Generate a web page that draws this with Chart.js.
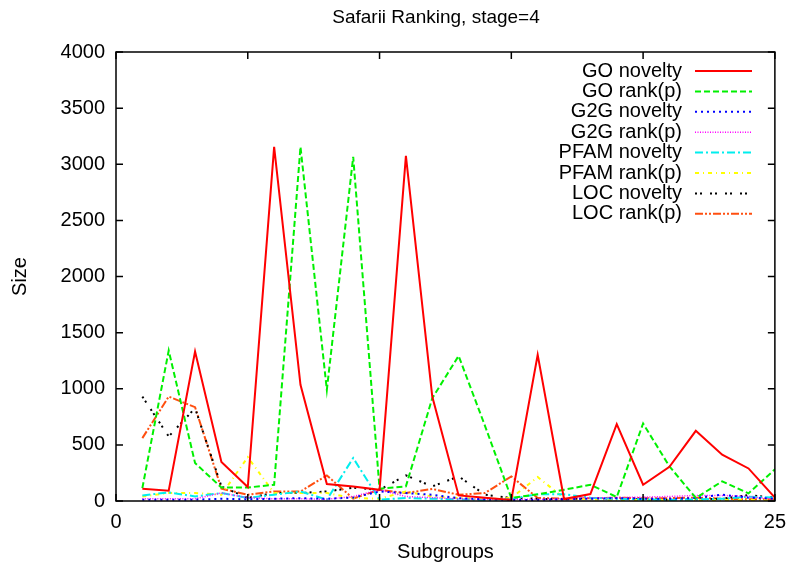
<!DOCTYPE html>
<html>
<head>
<meta charset="utf-8">
<script src="https://cdn.jsdelivr.net/npm/chart.js@4.4.0/dist/chart.umd.min.js"></script>
<style>
  html, body { margin: 0; padding: 0; background: #fff; }
</style>
</head>
<body>
<canvas id="chart" width="795" height="565"></canvas>
<script>
  // values
  const subgroups = [1, 2, 3, 4, 5, 6, 7, 8, 9, 10, 11, 12, 13, 14, 15, 16, 17, 18, 19, 20, 21, 22, 23, 24, 25];
  const goNovelty   = [110, 92, 1331, 347, 125, 3155, 1035, 151, 130, 100, 3075, 931, 50, 29, 10, 1302, 18, 62, 685, 145, 305, 625, 412, 290, 30];
  const goRank      = [115, 1340, 338, 120, 120, 145, 3155, 990, 3066, 110, 130, 916, 1293, 670, 27, 60, 100, 145, 35, 690, 308, 27, 175, 68, 282];
  const g2gNovelty  = [12, 12, 12, 20, 15, 20, 25, 20, 30, 85, 71, 56, 25, 15, 10, 10, 15, 20, 25, 20, 20, 27, 56, 30, 20];
  const g2gRank     = [20, 20, 20, 71, 30, 20, 20, 15, 40, 100, 40, 30, 20, 15, 15, 15, 20, 30, 30, 35, 40, 50, 50, 40, 15];
  const pfamNovelty = [50, 77, 41, 71, 27, 56, 85, 12, 383, 12, 27, 20, 15, 10, 20, 60, 60, 30, 20, 15, 10, 15, 20, 38, 30];
  const pfamRank    = [41, 71, 71, 56, 390, 71, 71, 71, 27, 20, 85, 40, 27, 15, 27, 213, 27, 15, 10, 10, 10, 10, 10, 10, 10];
  const locNovelty  = [930, 575, 827, 130, 27, 71, 71, 85, 118, 100, 228, 130, 219, 56, 27, 20, 15, 25, 20, 15, 10, 15, 20, 53, 30];
  const locRank     = [560, 930, 836, 110, 56, 85, 85, 228, 22, 100, 71, 107, 56, 71, 219, 27, 20, 25, 30, 25, 25, 30, 20, 15, 15];

  const xTicks = [0, 5, 10, 15, 20, 25];
  const yTicks = [0, 500, 1000, 1500, 2000, 2500, 3000, 3500, 4000];

  const FONT = '"Liberation Sans", Arial, sans-serif';
  const SIZE = 20;

  const series = [
    { label: 'GO novelty',   values: goNovelty,   color: '#ff0000', dash: [],                 width: 2 },
    { label: 'GO rank(p)',   values: goRank,      color: '#00f000', dash: [6, 3],             width: 2 },
    { label: 'G2G novelty',  values: g2gNovelty,  color: '#0000ff', dash: [2, 4],             width: 2 },
    { label: 'G2G rank(p)',  values: g2gRank,     color: '#ff00ff', dash: [1, 1.5],           width: 1.5 },
    { label: 'PFAM novelty', values: pfamNovelty, color: '#00eeee', dash: [8, 3, 2, 3],       width: 2 },
    { label: 'PFAM rank(p)', values: pfamRank,    color: '#ffff00', dash: [4, 4, 1, 4],       width: 2 },
    { label: 'LOC novelty',  values: locNovelty,  color: '#000000', dash: [2, 3, 2, 8],       width: 2 },
    { label: 'LOC rank(p)',  values: locRank,     color: '#ff4f10', dash: [8, 2, 2, 2, 2, 2], width: 2 }
  ];

  // gnuplot style frame: border, inward ticks on all sides, title and key
  const frame = {
    id: 'frame',
    afterDatasetsDraw(chart) {
      const { ctx, chartArea: a, scales: { x, y } } = chart;
      ctx.save();
      ctx.setLineDash([]);
      ctx.strokeStyle = '#000';
      ctx.lineWidth = 1.5;
      ctx.strokeRect(a.left, a.top, a.right - a.left, a.bottom - a.top);
      ctx.beginPath();
      for (const t of xTicks) {
        const px = x.getPixelForValue(t);
        ctx.moveTo(px, a.bottom); ctx.lineTo(px, a.bottom - 7);
        ctx.moveTo(px, a.top); ctx.lineTo(px, a.top + 7);
      }
      for (const t of yTicks) {
        const py = y.getPixelForValue(t);
        ctx.moveTo(a.left, py); ctx.lineTo(a.left + 7, py);
        ctx.moveTo(a.right, py); ctx.lineTo(a.right - 7, py);
      }
      ctx.stroke();

      ctx.fillStyle = '#000';
      ctx.font = '19px ' + FONT;
      ctx.textAlign = 'center';
      ctx.textBaseline = 'middle';
      ctx.fillText('Safarii Ranking, stage=4', 436, 18);

      // key
      ctx.font = SIZE + 'px ' + FONT;
      ctx.textAlign = 'right';
      chart.data.datasets.forEach((ds, i) => {
        const ry = 71 + i * 20.4;
        ctx.fillStyle = '#000';
        ctx.fillText(ds.label, 682, ry);
        ctx.strokeStyle = ds.borderColor;
        ctx.lineWidth = ds.borderWidth;
        ctx.setLineDash(ds.borderDash);
        ctx.beginPath();
        ctx.moveTo(695, ry);
        ctx.lineTo(752, ry);
        ctx.stroke();
      });
      ctx.restore();
    }
  };

  new Chart(document.getElementById('chart'), {
    type: 'line',
    data: {
      datasets: series.map(s => ({
        label: s.label,
        data: subgroups.map((g, i) => ({ x: g, y: s.values[i] })),
        borderColor: s.color,
        borderWidth: s.width,
        borderDash: s.dash,
        pointRadius: 0,
        tension: 0,
        fill: false
      }))
    },
    options: {
      responsive: false,
      animation: false,
      devicePixelRatio: 1,
      layout: { padding: { top: 52, right: 19, left: 0, bottom: 0 } },
      scales: {
        x: {
          type: 'linear',
          min: 0,
          max: 25,
          afterBuildTicks: s => { s.ticks = xTicks.map(v => ({ value: v })); },
          afterFit: s => { s.height = 64; },
          ticks: { color: '#000', padding: 9, font: { family: FONT, size: SIZE }, callback: v => String(v) },
          grid: { display: false, drawTicks: false },
          border: { display: false },
          title: { display: true, text: 'Subgroups', color: '#000', font: { family: FONT, size: SIZE }, padding: { top: 0, bottom: 1 } }
        },
        y: {
          min: 0,
          max: 4000,
          afterBuildTicks: s => { s.ticks = yTicks.map(v => ({ value: v })); },
          afterFit: s => { s.width = 116; },
          ticks: { color: '#000', padding: 11, font: { family: FONT, size: SIZE }, callback: v => String(v) },
          grid: { display: false, drawTicks: false },
          border: { display: false },
          title: { display: true, text: 'Size', color: '#000', font: { family: FONT, size: SIZE }, padding: { top: 8, bottom: 0 } }
        }
      },
      plugins: {
        legend: { display: false },
        tooltip: { enabled: false }
      }
    },
    plugins: [frame]
  });
</script>
</body>
</html>
